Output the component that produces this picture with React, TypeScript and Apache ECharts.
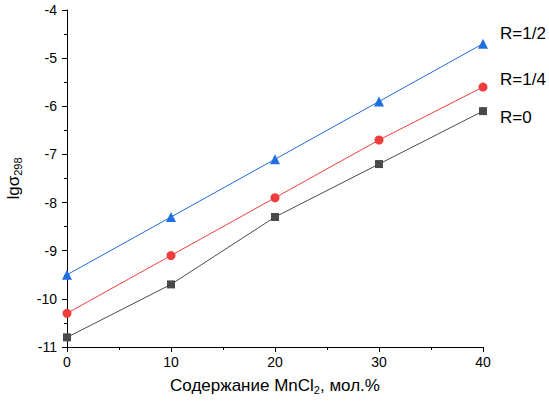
import React, { useEffect, useRef } from "react";
import * as echarts from "echarts";

const xValues = [0, 10, 20, 30, 40];
const seriesNames = ["R=0", "R=1/4", "R=1/2"];
const r0 = [-10.8, -9.7, -8.3, -7.2, -6.1];
const r14 = [-10.3, -9.1, -7.9, -6.7, -5.6];
const r12 = [-9.5, -8.3, -7.1, -5.9, -4.7];

const FONT = "Liberation Sans, Arial, sans-serif";

export default function App() {
  const ref = useRef<HTMLDivElement>(null);
  useEffect(() => {
    if (!ref.current) return;
    const chart = echarts.init(ref.current, undefined, { renderer: "svg" });
    const mk = (vals: number[]) => vals.map((v, i) => [xValues[i], v]);
    const series = [
      { name: seriesNames[0], data: mk(r0), color: "#4a4a4a", symbol: "rect", symbolSize: 8, off: [9, 6] },
      { name: seriesNames[1], data: mk(r14), color: "#f03c3c", symbol: "circle", symbolSize: 9, off: [9, -8] },
      { name: seriesNames[2], data: mk(r12), color: "#1f6fe0", symbol: "triangle", symbolSize: 10, off: [9, -10] },
    ].map((s) => ({
      type: "line",
      name: s.name,
      data: s.data,
      symbol: s.symbol,
      symbolSize: s.symbolSize,
      showAllSymbol: true,
      itemStyle: { color: s.color },
      lineStyle: { color: s.color, width: 1 },
      endLabel: {
        show: true,
        formatter: s.name,
        color: "#000",
        fontSize: 17,
        fontFamily: FONT,
        offset: s.off,
      },
    }));
    const nameRich = {
      a: { fontSize: 17, fontFamily: FONT, color: "#000" },
      s: { fontSize: 11, fontFamily: FONT, color: "#000", verticalAlign: "bottom", padding: [9, 0, 0, 0] },
    };
    const axisParts = {
      axisLine: { show: true, onZero: false, lineStyle: { color: "#000", width: 1 } },
      axisTick: { show: true, inside: false, length: 5, lineStyle: { color: "#000", width: 1 } },
      minorTick: { show: true, splitNumber: 2, length: 3, lineStyle: { color: "#000", width: 1 } },
      splitLine: { show: false },
    };
    chart.setOption({
      animation: false,
      grid: { left: 67, right: 66, top: 10, bottom: 58, outerBoundsMode: "none", containLabel: false },
      xAxis: {
        type: "value",
        min: 0,
        max: 40,
        interval: 10,
        name: "{a|Содержание MnCl}{s|2}{a|, мол.%}",
        nameLocation: "middle",
        nameGap: 28,
        nameTextStyle: { rich: nameRich },
        ...axisParts,
        axisLabel: { color: "#000", fontSize: 14, fontFamily: FONT, margin: 8 },
      },
      yAxis: {
        type: "value",
        min: -11,
        max: -4,
        interval: 1,
        name: "{a|lgσ}{s|298}",
        nameLocation: "middle",
        nameGap: 44,
        nameRotate: 90,
        nameTextStyle: { rich: nameRich },
        ...axisParts,
        axisLabel: { color: "#000", fontSize: 14, fontFamily: FONT, margin: 10 },
      },
      series,
    });
    return () => chart.dispose();
  }, []);
  return (
    <div
      ref={ref}
      style={{ position: "fixed", left: 0, top: 0, width: 549, height: 405, background: "#fff" }}
    />
  );
}
